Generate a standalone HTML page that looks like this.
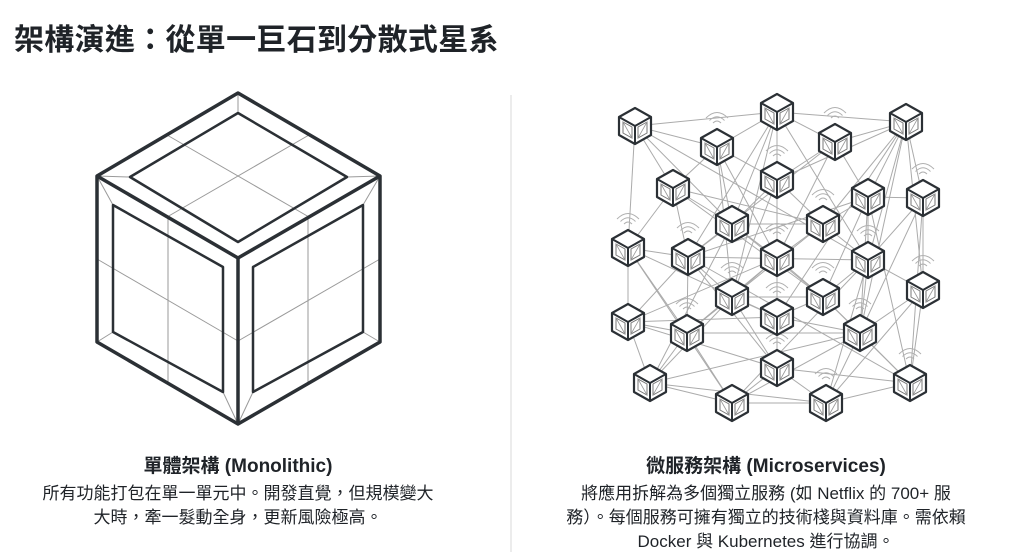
<!DOCTYPE html>
<html><head><meta charset="utf-8">
<style>
html,body{margin:0;padding:0;background:#fff;}
body{width:1024px;height:556px;position:relative;overflow:hidden;font-family:"Liberation Sans","Noto Sans CJK TC",sans-serif;color:#1f2328;}
.t{position:absolute;left:14px;top:15px;font-size:30px;font-weight:bold;letter-spacing:0.3px;white-space:nowrap;}
.cap{position:absolute;text-align:center;white-space:nowrap;}
.h{font-size:19px;font-weight:bold;}
.p{font-size:17px;line-height:24px;}
svg{position:absolute;left:0;top:0;}
</style></head><body>
<div class="t">架構演進：從單一巨石到分散式星系</div>
<svg width="1024" height="556" viewBox="0 0 1024 556">
<line x1="511" y1="95" x2="511" y2="552" stroke="#d8d8d8" stroke-width="1"/>
<g fill="none" stroke="#9a9a9a" stroke-width="1">
<line x1="238" y1="93" x2="238" y2="113"/><line x1="97" y1="176" x2="130" y2="177"/><line x1="380" y1="176" x2="347" y2="177"/>
<line x1="97" y1="176" x2="113" y2="205"/><line x1="97" y1="342" x2="113" y2="332"/><line x1="238" y1="424" x2="223" y2="392"/>
<line x1="380" y1="176" x2="363" y2="205"/><line x1="380" y1="342" x2="363" y2="332"/><line x1="238" y1="424" x2="253" y2="392"/>
<line x1="167" y1="135" x2="309" y2="217"/><line x1="309" y1="135" x2="167" y2="217"/>
<line x1="168" y1="217" x2="168" y2="383"/><line x1="97" y1="259" x2="238" y2="341"/>
<line x1="308" y1="217" x2="308" y2="383"/><line x1="380" y1="259" x2="238" y2="341"/>
</g>
<g fill="none" stroke="#2b3035" stroke-linejoin="round">
<polygon points="238,93 380,176 380,342 238,424 97,342 97,176" stroke-width="3.5"/>
<polyline points="97,176 238,258 380,176" stroke-width="3.5"/>
<line x1="238" y1="258" x2="238" y2="424" stroke-width="3.5"/>
<polygon points="238,113 347,177 238,242 130,177" stroke-width="2.5"/>
<polygon points="113,205 223,267 223,392 113,332" stroke-width="2.5"/>
<polygon points="253,267 363,205 363,332 253,392" stroke-width="2.5"/>
</g>
<g id="edges" stroke="#ababab" stroke-width="1" fill="none"></g>
<g id="wifi" stroke="#b0b0b0" stroke-width="1" fill="none"></g>
<g id="nodes"></g>
</svg>
<div class="cap" style="left:38px;width:400px;top:451px"><div class="h">單體架構 (Monolithic)</div>
<div class="p" style="margin-top:4px">所有功能打包在單一單元中。開發直覺，但規模變大<br>大時，牽一髮動全身，更新風險極高。</div></div>
<div class="cap" style="left:546px;width:440px;top:451px"><div class="h">微服務架構 (Microservices)</div>
<div class="p" style="margin-top:4px">將應用拆解為多個獨立服務 (如 Netflix 的 700+ 服<br>務）。每個服務可擁有獨立的技術棧與資料庫。需依賴<br>Docker 與 Kubernetes 進行協調。</div></div>
<script>
var N=[[635,126],[717,147],[777,112],[835,142],[906,122],[673,188],[777,180],[868,197],[923,198],[628,248],[688,257],[732,224],[823,224],[777,258],[868,260],[923,290],[732,297],[823,297],[628,322],[687,333],[777,317],[860,333],[650,383],[777,368],[732,403],[826,403],[910,383]];
var ns="http://www.w3.org/2000/svg";
function el(t,a,p){var e=document.createElementNS(ns,t);for(var k in a)e.setAttribute(k,a[k]);p.appendChild(e);return e;}
var E=document.getElementById('edges'),W=document.getElementById('wifi'),G=document.getElementById('nodes');
var seen={};var s=7;function r(){s=(s*16807)%2147483647;return s/2147483647;}
function add(i,j){if(i==j)return;var k=i<j?i+'_'+j:j+'_'+i;if(seen[k])return;seen[k]=1;el('line',{x1:N[i][0],y1:N[i][1],x2:N[j][0],y2:N[j][1]},E);}
for(var i=0;i<N.length;i++){var d=[];for(var j=0;j<N.length;j++)if(j!=i)d.push([Math.hypot(N[i][0]-N[j][0],N[i][1]-N[j][1]),j]);d.sort(function(a,b){return a[0]-b[0]});for(var m=0;m<4;m++)add(i,d[m][1]);add(i,d[5+Math.floor(r()*10)][1]);add(i,d[8+Math.floor(r()*10)][1]);}
var wf=[1,3,6,9,10,12,13,14,15,16,17,19,20,21,23,25,26,8];
wf.forEach(function(i){var x=N[i][0],y=N[i][1]-24;for(var q=0;q<3;q++){var rr=4+q*3.5;el('path',{d:'M'+(x-rr)+' '+(y-q*2.5)+' Q'+x+' '+(y-rr-q*2.5)+' '+(x+rr)+' '+(y-q*2.5)},W);}});
N.forEach(function(p){var x=p[0],y=p[1],g=el('g',{transform:'translate('+x+','+y+')'},G);
el('polygon',{points:'0,-18 16,-9 16,9 0,18 -16,9 -16,-9',fill:'#fff',stroke:'#2b3035','stroke-width':2.2,'stroke-linejoin':'round'},g);
el('polyline',{points:'-16,-9 0,0 16,-9',fill:'none',stroke:'#2b3035','stroke-width':2},g);
el('line',{x1:0,y1:0,x2:0,y2:18,stroke:'#2b3035','stroke-width':2},g);
el('polygon',{points:'-12,-4 -3,1 -3,12 -12,7',fill:'none',stroke:'#777','stroke-width':1},g);
el('polygon',{points:'12,-4 3,1 3,12 12,7',fill:'none',stroke:'#777','stroke-width':1},g);
el('line',{x1:-12,y1:-4,x2:-3,y2:12,stroke:'#999','stroke-width':0.8},g);
el('line',{x1:12,y1:-4,x2:3,y2:12,stroke:'#999','stroke-width':0.8},g);
});
</script>
</body></html>
